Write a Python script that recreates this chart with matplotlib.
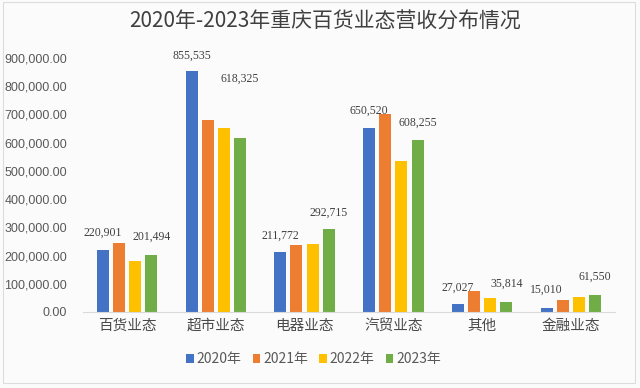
import numpy as np
import matplotlib.pyplot as plt
from matplotlib.patches import Rectangle

plt.rcParams['font.family'] = ['Noto Sans CJK SC', 'DejaVu Sans']

categories = ["百货业态", "超市业态", "电器业态", "汽贸业态", "其他", "金融业态"]
years = ["2020年", "2021年", "2022年", "2023年"]
rev_2020 = [220901, 855535, 211772, 650520, 27027, 15010]
rev_2021 = [243000, 681000, 238000, 702000, 76000, 41000]
rev_2022 = [182000, 651000, 241000, 536000, 51000, 54000]
rev_2023 = [201494, 618325, 292715, 608255, 35814, 61550]
yticks = [0, 100000, 200000, 300000, 400000, 500000, 600000, 700000, 800000, 900000]

colors = ["#4472C4", "#ED7D31", "#FFC000", "#70AD47"]
series = [rev_2020, rev_2021, rev_2022, rev_2023]

fig = plt.figure(figsize=(6.4, 3.88), dpi=100)
fig.patch.set_facecolor("#fbfbfc")
fig.patches.append(Rectangle((0.004, 0.013), 0.988, 0.983, transform=fig.transFigure,
                             fill=False, edgecolor="#dcdcdc", linewidth=0.8))
ax = fig.add_axes([0.129, 0.196, 0.8325, 0.6907])
ax.set_facecolor("none")

x = np.arange(len(categories))
step = 0.182
width = 0.135
for i, (vals, c, lab) in enumerate(zip(series, colors, years)):
    ax.bar(x + (i - 1.5) * step, vals, width, color=c, label=lab, zorder=2)

# value labels on first and last year only
lift = [12, 11, 12, 13, 12, 13]
lift_last = [13, 42, 12, 13, 13, 13]
for j in range(len(categories)):
    ax.annotate(f"{rev_2020[j]:,}", (x[j] - 1.5 * step, rev_2020[j]),
                xytext=(0, lift[j]), textcoords="offset points", ha="center", va="center",
                fontsize=8.5, family="Liberation Serif", color="#404040")
    ax.annotate(f"{rev_2023[j]:,}", (x[j] + 1.5 * step, rev_2023[j]),
                xytext=(0, lift_last[j]), textcoords="offset points", ha="center", va="center",
                fontsize=8.5, family="Liberation Serif", color="#404040")

ax.set_xlim(-0.5, len(categories) - 0.5)
ax.set_ylim(0, 950000)
ax.set_yticks(yticks)
ax.set_yticklabels([f"{v:,.2f}" for v in yticks], fontsize=9, family="Liberation Sans", color="#595959")
ax.set_xticks(x)
ax.set_xticklabels(categories, fontsize=10.5, color="#4a4a4a", fontweight="light")
ax.tick_params(axis="both", length=0)
ax.tick_params(axis="y", pad=11)
ax.tick_params(axis="x", pad=5)
for s in ["top", "right", "left"]:
    ax.spines[s].set_visible(False)
ax.spines["bottom"].set_color("#d9d9d9")

fig.text(0.508, 0.945, "2020年-2023年重庆百货业态营收分布情况", ha="center", va="center",
         fontsize=15, color="#404040", fontweight="light")

fig.legend(loc="center", bbox_to_anchor=(0.49, 0.074), ncol=4, frameon=False,
           fontsize=10, handlelength=0.55, handleheight=0.55, handletextpad=0.2,
           columnspacing=0.8, labelcolor="#595959")

fig.savefig("out.png", dpi=100, facecolor=fig.get_facecolor())
